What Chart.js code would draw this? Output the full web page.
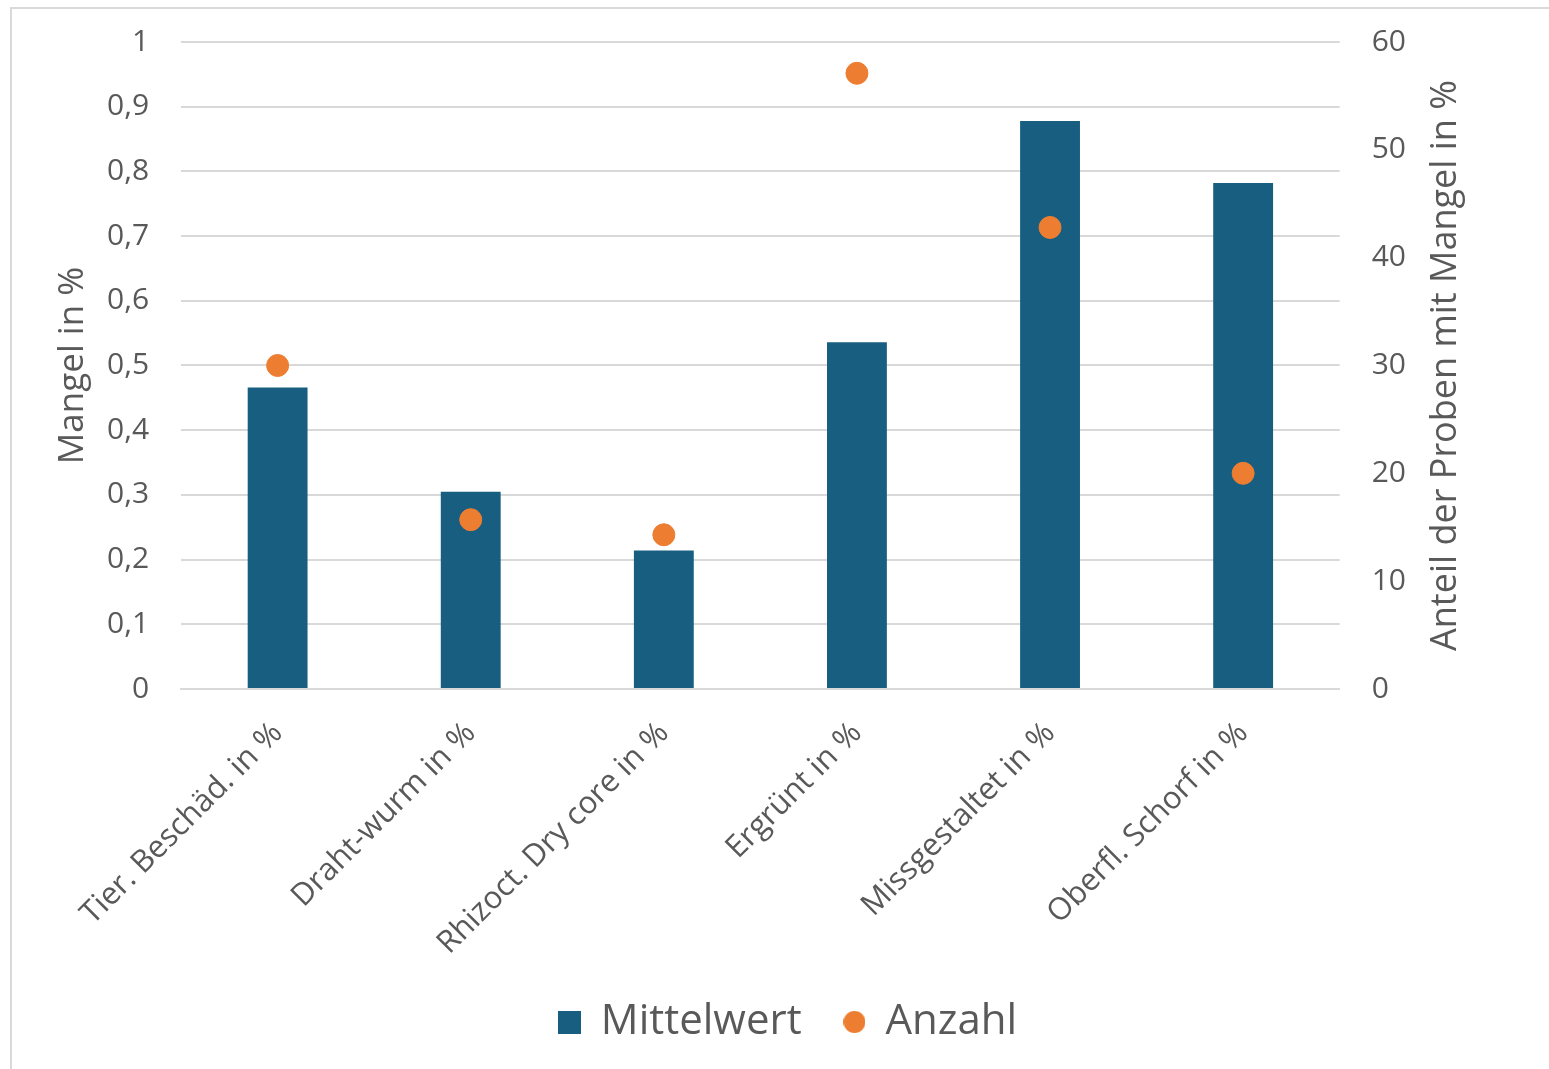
<!DOCTYPE html>
<html>
<head>
<meta charset="utf-8">
<script src="https://cdn.jsdelivr.net/npm/chart.js@4"></script>
<style>
  html, body { margin: 0; padding: 0; background: #fff; }
  #wrap {
    position: absolute; left: 10px; top: 7px; width: 1539px; height: 1062px;
    border: 2px solid #d9d9d9; border-right: none; border-bottom: none; box-sizing: border-box;
  }
</style>
</head>
<body>
<div id="wrap"><canvas id="chart"></canvas></div>
<script>
// Kategorien und Werte
const kategorien = ['Tier. Beschäd. in %', 'Draht-wurm in %', 'Rhizoct. Dry core in %', 'Ergrünt in %', 'Missgestaltet in %', 'Oberfl. Schorf in %'];
const mittelwert = [0.466, 0.305, 0.214, 0.536, 0.878, 0.782];
const anzahl = [30, 15.7, 14.3, 57.1, 42.8, 20];

const grau = '#595959';
const blau = '#175e80';
const orange = '#ed7d31';
const schrift = "'Open Sans', 'Noto Sans', sans-serif";
const rechterTitel = 'Anteil der Proben mit Mangel in %';

// kleine Symbole für die Legende
function symbol(form, farbe, groesse) {
    const c = document.createElement('canvas');
    c.width = groesse; c.height = groesse;
    const g = c.getContext('2d');
    g.fillStyle = farbe;
    if (form === 'rect') {
        g.fillRect(0, 0, groesse, groesse);
    } else {
        g.beginPath();
        g.arc(groesse / 2, groesse / 2, groesse / 2, 0, Math.PI * 2);
        g.fill();
    }
    return c;
}
const quadrat = symbol('rect', blau, 23);
const kreis = symbol('circle', orange, 22);

// rechter Achsentitel von unten nach oben lesen
const titelPlugin = {
    id: 'rechterTitel',
    afterDraw(chart) {
        const s = chart.scales.y1;
        const ctx = chart.ctx;
        ctx.save();
        ctx.translate(s.right - 91, (chart.chartArea.top + chart.chartArea.bottom) / 2);
        ctx.rotate(-Math.PI / 2);
        ctx.fillStyle = grau;
        ctx.font = '36px ' + schrift;
        ctx.textAlign = 'center';
        ctx.textBaseline = 'middle';
        ctx.fillText(rechterTitel, 0, 0);
        ctx.restore();
    }
};

// weniger Platz oben/unten für die Y-Achsen
const wenigerRand = s => { s.paddingTop = 18; s.paddingBottom = 18; };

new Chart(document.getElementById('chart'), {
    type: 'bar',
    data: {
        labels: kategorien,
        datasets: [
            {
                type: 'line',
                label: 'Anzahl',
                data: anzahl,
                yAxisID: 'y1',
                showLine: false,
                pointStyle: 'circle',
                pointRadius: 11,
                pointBackgroundColor: orange,
                pointBorderColor: orange,
                backgroundColor: orange,
                borderColor: orange,
                order: 0
            },
            {
                label: 'Mittelwert',
                data: mittelwert,
                yAxisID: 'y',
                backgroundColor: blau,
                barPercentage: 0.31,
                categoryPercentage: 1,
                order: 1
            }
        ]
    },
    options: {
        responsive: true,
        maintainAspectRatio: false,
        animation: false,
        layout: { padding: { top: 33, right: 12, left: 28, bottom: 16 } },
        scales: {
            x: {
                grid: { display: false },
                border: { color: '#d9d9d9', width: 2 },
                ticks: {
                    color: grau,
                    font: { family: schrift, size: 31 },
                    minRotation: 45, maxRotation: 45,
                    padding: 18
                }
            },
            y: {
                position: 'left',
                min: 0, max: 1,
                afterFit: wenigerRand,
                ticks: {
                    stepSize: 0.1,
                    color: grau,
                    padding: 32,
                    font: { family: schrift, size: 30 },
                    callback: v => (Math.round(v * 10) / 10).toString().replace('.', ',')
                },
                grid: { color: '#d9d9d9', lineWidth: 2, drawTicks: false },
                border: { display: false },
                title: {
                    display: true, text: 'Mangel in %', color: grau,
                    font: { family: schrift, size: 35, lineHeight: 1 },
                    padding: { top: 16, bottom: -16 }
                }
            },
            y1: {
                position: 'right',
                min: 0, max: 60,
                afterFit: wenigerRand,
                ticks: {
                    stepSize: 10,
                    color: grau,
                    padding: 32,
                    font: { family: schrift, size: 30 }
                },
                grid: { display: false, drawTicks: false },
                border: { display: false },
                title: {
                    display: true, text: rechterTitel, color: 'rgba(0,0,0,0)',
                    font: { family: schrift, size: 34, lineHeight: 1 },
                    padding: { top: 80, bottom: -15 }
                }
            }
        },
        plugins: {
            legend: {
                position: 'bottom',
                labels: {
                    usePointStyle: true,
                    color: grau,
                    font: { family: schrift, size: 42 },
                    boxWidth: 20, boxHeight: 24,
                    padding: 21,
                    generateLabels: chart => {
                        const items = Chart.defaults.plugins.legend.labels.generateLabels(chart);
                        items.forEach(it => {
                            if (it.text === 'Anzahl') {
                                it.pointStyle = kreis;
                            } else {
                                it.pointStyle = quadrat;
                                it.text = it.text + '  ';
                            }
                        });
                        return items.reverse();
                    }
                }
            },
            tooltip: { enabled: false }
        }
    },
    plugins: [titelPlugin]
});
</script>
</body>
</html>
